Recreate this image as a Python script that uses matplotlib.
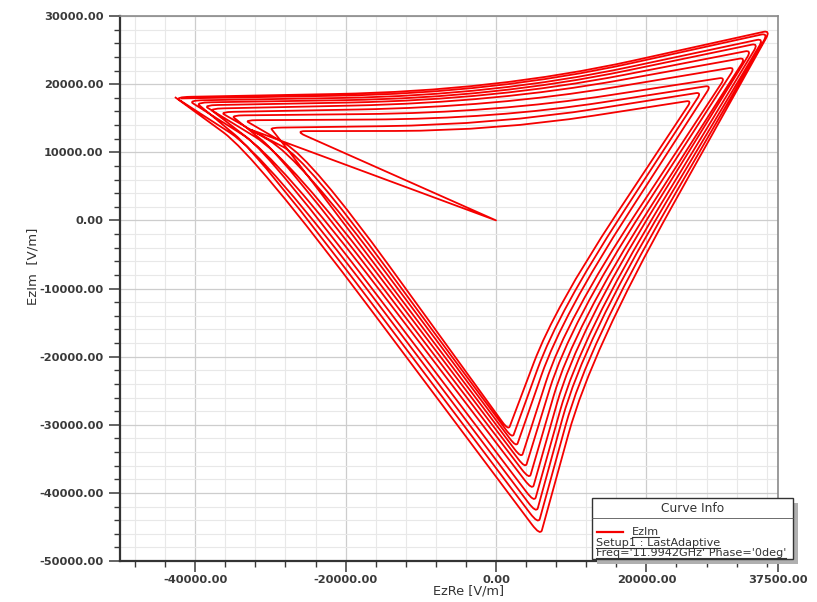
import matplotlib
matplotlib.use("Agg")
import matplotlib.pyplot as plt
from matplotlib.patches import Rectangle, PathPatch
from matplotlib.path import Path
from matplotlib.lines import Line2D

plt.rcParams['font.family'] = ['DejaVu Sans']
plt.rcParams['axes.unicode_minus'] = False

# ---- trajectory corner points, one entry per loop (0 = innermost, 10 = outermost) ----
# top-left corners
tl_re = [-26700, -30000, -33400, -35200, -36700, -38100, -38900, -39900, -40900, -41900, -42700]
tl_im = [13100, 13600, 14700, 15400, 15900, 16400, 16900, 17300, 17600, 17900, 18100]
# control point bending the upper edge
top_ctrl_re = 0
top_ctrl_im = [13150, 14050, 14900, 15800, 16650, 17300, 17700, 18000, 18350, 18700, 19000]
# top-right corners
tr_re = [26000, 27300, 28600, 30500, 31800, 33200, 34000, 34900, 35600, 36200, 36500]
tr_im = [17600, 18800, 19800, 21000, 22500, 23900, 25000, 26000, 26700, 27500, 27900]
# knee of the right edge
kr_re = [7800, 8300, 8800, 9300, 9800, 10300, 10800, 11300, 11700, 12200, 12700]
kr_im = [-12800, -13400, -14000, -14600, -15200, -15800, -16400, -17000, -17600, -18300, -19100]
# bottom corners
b_re = [1640, 2170, 2700, 3370, 3900, 4430, 4830, 5100, 5370, 5630, 5900]
b_im = [-30800, -32000, -33300, -34900, -36400, -38000, -39600, -41400, -43000, -44600, -46300]
# knee of the left edge
kl_re = [-24500, -25300, -26000, -26800, -27500, -28300, -29000, -29800, -30500, -31300, -32000]
kl_im = [9000, 9050, 9100, 9150, 9200, 9250, 9300, 9350, 9400, 9450, 9500]
# turning point of the inward spiral before it passes through the origin
turn_re, turn_im = -32800, 13400

inward_loops = [9, 7, 5, 3, 1]
outward_loops = [0, 2, 4, 6, 8, 10]

# corner rounding (fraction of the adjacent edges used by each bend)
ROUND = {'tl': 0.05, 'top': 0.5, 'tr': 0.025, 'kr': 0.45, 'b': 0.03, 'kl': 0.4,
         'turn': 0.04, 'origin': 0.0}


def loop_points(k):
    return [((tl_re[k], tl_im[k]), ROUND['tl']),
            ((top_ctrl_re, top_ctrl_im[k]), ROUND['top']),
            ((tr_re[k], tr_im[k]), ROUND['tr']),
            ((kr_re[k], kr_im[k]), ROUND['kr']),
            ((b_re[k], b_im[k]), ROUND['b']),
            ((kl_re[k], kl_im[k]), ROUND['kl'])]


ctrl = []
for k in inward_loops:
    ctrl += loop_points(k)
ctrl += [((turn_re, turn_im), ROUND['turn']), ((0, 0), ROUND['origin'])]
for k in outward_loops:
    ctrl += loop_points(k)
ctrl += [((tl_re[10], tl_im[10]), 0.0)]

# polygon with rounded bends -> matplotlib path (quadratic segments at each bend)
verts = [ctrl[0][0]]
codes = [Path.MOVETO]
for i in range(1, len(ctrl) - 1):
    (vx, vy), f = ctrl[i]
    if f <= 0:
        verts.append((vx, vy))
        codes.append(Path.LINETO)
        continue
    (px, py), _ = ctrl[i - 1]
    (nx, ny), _ = ctrl[i + 1]
    a = (vx + f * (px - vx), vy + f * (py - vy))
    b = (vx + f * (nx - vx), vy + f * (ny - vy))
    verts += [a, (vx, vy), b]
    codes += [Path.LINETO, Path.CURVE3, Path.CURVE3]
verts.append(ctrl[-1][0])
codes.append(Path.LINETO)
ez_path = Path(verts, codes)

# ---- figure ----
W, H = 817, 602
fig = plt.figure(figsize=(W / 100, H / 100), dpi=100)
fig.patch.set_facecolor('white')
ax = fig.add_axes([120 / W, 1 - 561 / H, 658 / W, 545 / H])

ax.add_patch(PathPatch(ez_path, facecolor='none', edgecolor='#f50000', lw=1.3,
                       joinstyle='round', zorder=3))

ax.set_xlim(-50000, 37500)
ax.set_ylim(-50000, 30000)

x_major = [-40000, -20000, 0, 20000, 37500]
y_major = list(range(-50000, 30001, 10000))
ax.set_xticks(x_major)
ax.set_xticks([v for v in range(-48000, 37501, 4000)], minor=True)
ax.set_yticks(y_major)
ax.set_yticks([v for v in range(-50000, 30001, 2000)], minor=True)
ax.set_xticklabels([f"{v:.2f}" for v in x_major])
ax.set_yticklabels([f"{v:.2f}" for v in y_major])

ax.tick_params(which='major', direction='out', length=8, width=1.1, color='#3a3a3a',
               labelsize=8.2, labelcolor='#3a3a3a', pad=2)
ax.tick_params(which='minor', direction='out', length=4, width=1.0, color='#3a3a3a')
ax.tick_params(axis='y', which='major', pad=4)
for lbl in ax.get_xticklabels() + ax.get_yticklabels():
    lbl.set_fontweight('bold')

ax.grid(which='minor', color='#e8e8e8', lw=0.8, zorder=0)
ax.grid(which='major', color='#cdcdcd', lw=0.9, zorder=0)
ax.set_axisbelow(True)

for side in ('left', 'bottom'):
    ax.spines[side].set_color('#333333')
    ax.spines[side].set_linewidth(1.6)
for side in ('top', 'right'):
    ax.spines[side].set_color('#8a8a8a')
    ax.spines[side].set_linewidth(1.2)

ax.set_xlabel('EzRe [V/m]', fontsize=9.3, color='#333333', va='center')
ax.xaxis.set_label_coords((469 - 120) / 658, (561 - 591) / 545)
ax.set_ylabel('EzIm  [V/m]', fontsize=9.5, color='#333333', va='center')
ax.yaxis.set_label_coords((33 - 120) / 658, (561 - 266) / 545)

# ---- curve info box (pixel coordinates, y measured from the top) ----
def fx(px):
    return px / W


def fy(py):
    return 1 - py / H


bx0, by0, bx1, by1 = 591.7, 498, 793.3, 559
fig.patches.append(Rectangle((fx(bx0 + 5), fy(by1 + 5)), (bx1 - bx0) / W, (by1 - by0) / H,
                             transform=fig.transFigure, facecolor='#b0b0b0', edgecolor='none',
                             zorder=5))
fig.patches.append(Rectangle((fx(bx0), fy(by1)), (bx1 - bx0) / W, (by1 - by0) / H,
                             transform=fig.transFigure, facecolor='white', edgecolor='#333333',
                             lw=1.0, zorder=6))
fig.lines.append(Line2D([fx(bx0), fx(bx1)], [fy(518), fy(518)], transform=fig.transFigure,
                        color='#555555', lw=0.6, zorder=7))
fig.text(fx((bx0 + bx1) / 2), fy(508), 'Curve Info', ha='center', va='center',
         fontsize=8.8, color='#333333', zorder=8)
fig.lines.append(Line2D([fx(597), fx(623)], [fy(532), fy(532)], transform=fig.transFigure,
                        color='#f50000', lw=1.6, zorder=8))
info_texts = [
    fig.text(fx(632), fy(532), 'EzIm', ha='left', va='center', fontsize=8.1,
             color='#333333', zorder=8),
    fig.text(fx(596), fy(543), 'Setup1 : LastAdaptive', ha='left', va='center',
             fontsize=8.1, color='#333333', zorder=8),
    fig.text(fx(596), fy(553), "Freq='11.9942GHz' Phase='0deg'", ha='left', va='center',
             fontsize=8.1, color='#333333', zorder=8),
]

fig.canvas.draw()
renderer = fig.canvas.get_renderer()
for t in info_texts:
    bb = t.get_window_extent(renderer)
    yline = (bb.y0 + 0.5) / H
    fig.lines.append(Line2D([bb.x0 / W, bb.x1 / W], [yline, yline], transform=fig.transFigure,
                            color='#333333', lw=0.8, zorder=8))

fig.savefig('out.png', dpi=100, facecolor='white')
